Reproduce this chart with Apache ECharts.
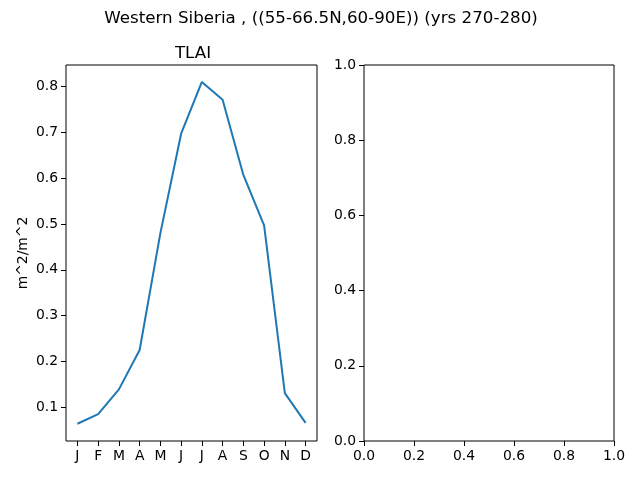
<!DOCTYPE html>
<html>
<head>
<meta charset="utf-8">
<script src="https://cdn.jsdelivr.net/npm/echarts@6/dist/echarts.min.js"></script>
<style>
  html, body { margin: 0; padding: 0; background: #fff; }
  #main { width: 640px; height: 480px; }
</style>
</head>
<body>
<div id="main"></div>
<script>
// 月份和 TLAI 数值
var months = ['J', 'F', 'M', 'A', 'M', 'J', 'J', 'A', 'S', 'O', 'N', 'D'];
var tlai = [0.064, 0.085, 0.139, 0.225, 0.480, 0.697, 0.810, 0.771, 0.607, 0.497, 0.131, 0.066];
var leftYTicks = [0.1, 0.2, 0.3, 0.4, 0.5, 0.6, 0.7, 0.8];

var font = 'DejaVu Sans';
var black = '#000';

var lineData = tlai.map(function (v, i) { return [i, v]; });

// 轴线由 grid 边框画，onZero 关掉
var axisBase = {
    axisLine: { show: false, onZero: false },
    axisTick: { show: true, inside: false, length: 5, lineStyle: { color: black, width: 1 } },
    axisLabel: { color: black, fontFamily: font, fontSize: 13.9 },
    splitLine: { show: false }
};

function merge(a, b) {
    return echarts.util.merge(echarts.util.clone(a), b, true);
}

var myChart = echarts.init(document.getElementById('main'), null, { renderer: 'canvas' });

myChart.setOption({
    backgroundColor: '#fff',
    animation: false,
    title: [
        {
            text: 'Western Siberia , ((55-66.5N,60-90E)) (yrs 270-280)',
            left: 316, top: 5, textAlign: 'center',
            textStyle: { fontFamily: font, fontSize: 16.7, fontWeight: 'normal', color: black }
        },
        {
            text: 'TLAI',
            left: 188, top: 40, textAlign: 'center',
            textStyle: { fontFamily: font, fontSize: 16.7, fontWeight: 'normal', color: black }
        }
    ],
    grid: [
        { left: 66, right: 323, top: 65, bottom: 39, show: true, borderColor: black, borderWidth: 1, backgroundColor: 'transparent' },
        { left: 364, right: 26, top: 65, bottom: 39, show: true, borderColor: black, borderWidth: 1, backgroundColor: 'transparent' }
    ],
    xAxis: [
        merge(axisBase, {
            type: 'value', gridIndex: 0,
            min: -0.55, max: 11.55,
            axisTick: { customValues: months.map(function (m, i) { return i; }) },
            axisLabel: {
                customValues: months.map(function (m, i) { return i; }),
                formatter: function (v) { return months[Math.round(v)]; },
                margin: 8
            }
        }),
        merge(axisBase, {
            type: 'value', gridIndex: 1,
            min: 0, max: 1, interval: 0.2,
            axisLabel: { formatter: function (v) { return v.toFixed(1); }, margin: 8, showMinLabel: true, showMaxLabel: true }
        })
    ],
    yAxis: [
        merge(axisBase, {
            type: 'value', gridIndex: 0,
            min: 0.0264, max: 0.847,
            name: 'm^2/m^2', nameLocation: 'middle', nameGap: 36, nameRotate: 90,
            nameTextStyle: { color: black, fontFamily: font, fontSize: 13.9 },
            axisTick: { customValues: leftYTicks },
            axisLabel: { customValues: leftYTicks, formatter: function (v) { return v.toFixed(1); }, margin: 8 }
        }),
        merge(axisBase, {
            type: 'value', gridIndex: 1,
            min: 0, max: 1, interval: 0.2,
            axisLabel: { formatter: function (v) { return v.toFixed(1); }, margin: 8, showMinLabel: true, showMaxLabel: true }
        })
    ],
    series: [
        {
            name: 'TLAI',
            type: 'line',
            xAxisIndex: 0, yAxisIndex: 0,
            data: lineData,
            showSymbol: false,
            symbol: 'none',
            lineStyle: { color: '#1f77b4', width: 2 },
            itemStyle: { color: '#1f77b4' }
        }
    ]
});
</script>
</body>
</html>
